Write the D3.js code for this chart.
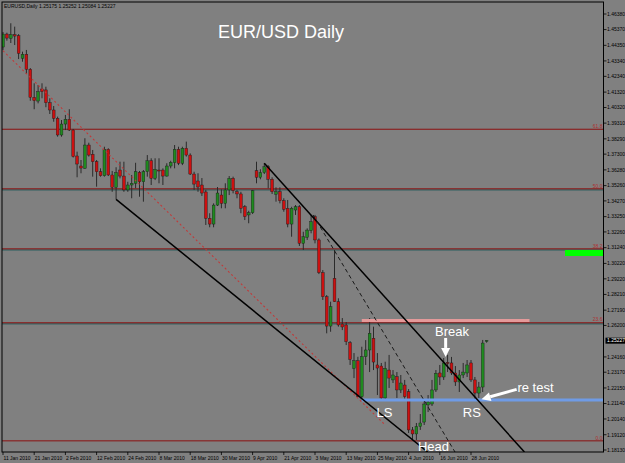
<!DOCTYPE html>
<html>
<head>
<meta charset="utf-8">
<script src="https://cdn.jsdelivr.net/npm/d3@7/dist/d3.min.js"></script>
<style>
  html, body { margin: 0; padding: 0; background: #808080; }
  svg { display: block; }
  text { font-family: "Liberation Sans", Arial, sans-serif; }
</style>
</head>
<body>
<svg id="chart" width="625" height="463"></svg>
<script>
// EURUSD daily bars, index 0 = 11 Jan 2010 ... index 124 = 2 Jul 2010
const opens = [1.4424,1.4508,1.4480,1.4504,1.4497,1.4351,1.4377,1.4280,1.4098,1.4074,
  1.4152,1.4146,1.4063,1.4016,1.3962,1.3854,1.3925,1.3956,1.3886,1.3718,
  1.3653,1.3638,1.3789,1.3729,1.3681,1.3616,1.3590,1.3761,1.3595,1.3515,
  1.3627,1.3588,1.3498,1.3530,1.3541,1.3612,1.3551,1.3616,1.3687,1.3573,
  1.3627,1.3627,1.3588,1.3653,1.3675,1.3761,1.3671,1.3768,1.3724,1.3601,
  1.3556,1.3530,1.3485,1.3314,1.3277,1.3400,1.3465,1.3411,1.3498,1.3573,
  1.3486,1.3472,1.3389,1.3336,1.3350,1.3623,1.3580,1.3610,1.3648,1.3567,
  1.3470,1.3486,1.3428,1.3379,1.3277,1.3368,1.3389,1.3152,1.3191,1.3234,
  1.3325,1.3174,1.2962,1.2806,1.2616,1.2925,1.2774,1.2629,1.2623,1.2508,
  1.2342,1.2391,1.2158,1.2417,1.2461,1.2537,1.2364,1.2357,1.2150,1.2331,
  1.2267,1.2288,1.2202,1.2234,1.2191,1.1943,1.1917,1.1965,1.1994,1.2105,
  1.2111,1.2202,1.2312,1.2286,1.2380,1.2377,1.2312,1.2254,1.2299,1.2312,
  1.2377,1.2267,1.2182,1.2221,1.25175];
const highs = [1.4521,1.4517,1.4578,1.4556,1.4508,1.4394,1.4405,1.4288,1.4189,1.4178,
  1.4189,1.4167,1.4092,1.4042,1.3973,1.3951,1.3984,1.4021,1.3893,1.3746,
  1.3692,1.3833,1.3804,1.3757,1.3692,1.3638,1.3778,1.3768,1.3621,1.3645,
  1.3681,1.3681,1.3551,1.3595,1.3674,1.3621,1.3627,1.3724,1.3703,1.3703,
  1.3703,1.3638,1.3671,1.3687,1.3789,1.3778,1.3778,1.3811,1.3735,1.3616,
  1.3606,1.3575,1.3498,1.3347,1.3411,1.3517,1.3502,1.3541,1.3588,1.3584,
  1.3498,1.3486,1.3400,1.3363,1.3498,1.3681,1.3632,1.3671,1.3659,1.3580,
  1.3515,1.3515,1.3444,1.3433,1.3389,1.3400,1.3400,1.3227,1.3249,1.3336,
  1.3336,1.3184,1.2979,1.2817,1.2774,1.3109,1.2796,1.2668,1.2642,1.2519,
  1.2441,1.2417,1.2482,1.2525,1.2668,1.2612,1.2441,1.2377,1.2385,1.2429,
  1.2331,1.2318,1.2299,1.2267,1.2208,1.1962,1.1988,1.2046,1.2137,1.2169,
  1.2267,1.2331,1.2364,1.2409,1.2429,1.2416,1.2357,1.2331,1.2377,1.2396,
  1.2396,1.2286,1.2254,1.2526,1.25252];
const lows = [1.4405,1.4465,1.4450,1.4437,1.4346,1.4329,1.4249,1.4076,1.4021,1.4059,
  1.4092,1.4034,1.3990,1.3940,1.3843,1.3843,1.3886,1.3880,1.3708,1.3580,
  1.3606,1.3635,1.3714,1.3584,1.3519,1.3584,1.3584,1.3588,1.3486,1.3437,
  1.3573,1.3486,1.3486,1.3444,1.3509,1.3454,1.3422,1.3584,1.3530,1.3562,
  1.3541,1.3530,1.3584,1.3638,1.3638,1.3659,1.3659,1.3714,1.3595,1.3498,
  1.3486,1.3459,1.3271,1.3256,1.3256,1.3394,1.3379,1.3379,1.3465,1.3476,
  1.3444,1.3347,1.3303,1.3282,1.3342,1.3541,1.3567,1.3601,1.3509,1.3472,
  1.3422,1.3411,1.3357,1.3256,1.3195,1.3336,1.3135,1.3109,1.3174,1.3217,
  1.3152,1.2953,1.2785,1.2569,1.2579,1.2772,1.2612,1.2590,1.2493,1.2364,
  1.2279,1.2156,1.2148,1.2364,1.2318,1.2331,1.2169,1.2137,1.2137,1.2215,
  1.2247,1.2150,1.2182,1.2137,1.1923,1.1875,1.1878,1.1943,1.1975,1.2059,
  1.2098,1.2189,1.2234,1.2267,1.2318,1.2299,1.2228,1.2189,1.2279,1.2286,
  1.2254,1.2137,1.2150,1.2189,1.25084];
const closes = [1.4508,1.4482,1.4504,1.4495,1.4383,1.4377,1.4280,1.4098,1.4076,1.4135,
  1.4135,1.4063,1.4016,1.3962,1.3854,1.3925,1.3956,1.3886,1.3714,1.3666,
  1.3640,1.3789,1.3724,1.3681,1.3616,1.3590,1.3761,1.3595,1.3515,1.3610,
  1.3588,1.3498,1.3530,1.3541,1.3616,1.3551,1.3616,1.3687,1.3573,1.3632,
  1.3624,1.3588,1.3653,1.3677,1.3761,1.3671,1.3768,1.3724,1.3601,1.3536,
  1.3517,1.3478,1.3314,1.3277,1.3400,1.3478,1.3411,1.3498,1.3573,1.3493,
  1.3472,1.3379,1.3325,1.3350,1.3493,1.3580,1.3610,1.3648,1.3567,1.3486,
  1.3486,1.3428,1.3373,1.3277,1.3379,1.3389,1.3152,1.3195,1.3238,1.3292,
  1.3174,1.2962,1.2806,1.2616,1.2741,1.2774,1.2623,1.2610,1.2515,1.2400,
  1.2391,1.2158,1.2417,1.2461,1.2569,1.2383,1.2344,1.2150,1.2342,1.2279,
  1.2299,1.2202,1.2247,1.2158,1.1943,1.1917,1.1965,1.1988,1.2111,1.2124,
  1.2202,1.2310,1.2286,1.2377,1.2374,1.2312,1.2254,1.2299,1.2318,1.2364,
  1.2267,1.2182,1.2221,1.2506,1.25227];

// time axis: one label every 8 bars
const dateLabels = ["11 Jan 2010","21 Jan 2010","2 Feb 2010","12 Feb 2010","24 Feb 2010",
  "8 Mar 2010","18 Mar 2010","30 Mar 2010","9 Apr 2010","21 Apr 2010","3 May 2010",
  "13 May 2010","25 May 2010","4 Jun 2010","16 Jun 2010","28 Jun 2010"];
const dateIndex = [0,8,16,24,32,40,48,56,64,72,80,88,96,104,112,120];

// price axis labels
const priceLabels = ["1.46380","1.45370","1.44350","1.43340","1.42340","1.41320","1.40320",
  "1.39310","1.38290","1.37300","1.36280","1.35260","1.34270","1.33250","1.32260","1.31240",
  "1.30220","1.29220","1.28210","1.27190","1.26200","1.24160","1.23170","1.22150","1.21140",
  "1.20140","1.19120","1.18130"];
const lastPrice = 1.25227;

// fibo retracement levels
const fibPrices = [1.1871, 1.2636, 1.3115, 1.3504, 1.3890];
const fibNames = ["0.0", "23.6", "38.2", "50.0", "61.8"];
// plain horizontal lines sitting on the middle fibo levels
const flatLines = [1.2636, 1.3115, 1.3504];

// drawn objects (bar index, price)
const lowerChannel = [[29, 1.3437], [108.9, 1.1800]];
const upperChannel = [[67, 1.3671], [133.7, 1.1800]];
const dashedLine = [[79.5, 1.3336], [115.9, 1.1800]];
const dottedLine = [[0, 1.4400], [98, 1.1975]];
const resistance = [[92, 1.2652], [135, 1.2652]];
const support = [[92, 1.2137], [160, 1.2137]];
const greenZone = [[144.1, 1.3109], [160, 1.3070]];

const notes = [["Break", 110.8, 1.2549], ["LS", 95.8, 1.2029], ["RS", 117.9, 1.2029],
  ["Head", 106.4, 1.1806], ["re test", 131.9, 1.2186]];
const arrows = [[[113.5, 1.2539], [113.5, 1.2416]], [[131.7, 1.2206], [122.7, 1.2142]]];

const svg = d3.select("#chart");
const plotL = 2, plotR = 603.5, plotT = 2, plotB = 452;

const x = d3.scaleLinear().domain([0, 120]).range([3, 471]);
const y = d3.scaleLinear().domain([1.1813, 1.4638]).range([450, 14]);

const bars = opens.map((o, i) => ({ i: i, o: o, h: highs[i], l: lows[i], c: closes[i] }));

svg.append("rect").attr("width", 625).attr("height", 463).attr("fill", "#808080");

svg.append("clipPath").attr("id", "plotclip")
  .append("rect").attr("x", plotL).attr("y", plotT)
  .attr("width", plotR - plotL).attr("height", plotB - plotT);

const g = svg.append("g").attr("clip-path", "url(#plotclip)");

// header
svg.append("text").attr("x", 4).attr("y", 8)
  .attr("font-size", 5).attr("fill", "#000")
  .text("EURUSD,Daily  1.25175 1.25252 1.25084 1.25227");

// title
svg.append("text").attr("x", 218).attr("y", 38)
  .attr("font-size", 18).attr("fill", "#fff")
  .text("EUR/USD Daily");

// fibo lines
g.selectAll(".flat").data(flatLines).enter().append("line")
  .attr("x1", plotL).attr("x2", plotR)
  .attr("y1", d => y(d) + 0.9).attr("y2", d => y(d) + 0.9)
  .attr("stroke", "#1d5a5a").attr("stroke-width", 1);
g.selectAll(".fib").data(fibPrices).enter().append("line")
  .attr("x1", plotL).attr("x2", plotR)
  .attr("y1", d => y(d) - 0.2).attr("y2", d => y(d) - 0.2)
  .attr("stroke", "#8c1010").attr("stroke-width", 1);
svg.selectAll(".fibtxt").data(fibPrices).enter().append("text")
  .attr("x", plotR - 1).attr("y", d => y(d) - 1.5)
  .attr("text-anchor", "end").attr("font-size", 5).attr("fill", "#b03030")
  .text((d, i) => fibNames[i]);

// candles
const line = d3.line().x(d => x(d[0])).y(d => y(d[1]));

g.selectAll(".wick").data(bars).enter().append("line")
  .attr("x1", d => x(d.i)).attr("x2", d => x(d.i))
  .attr("y1", d => y(d.h)).attr("y2", d => y(d.l))
  .attr("stroke", "#2a2a2a").attr("stroke-width", 1);

g.selectAll(".body").data(bars).enter().append("rect")
  .attr("x", d => x(d.i) - 1.4).attr("width", 2.8)
  .attr("y", d => y(Math.max(d.o, d.c)))
  .attr("height", d => Math.max(1, Math.abs(y(d.o) - y(d.c))))
  .attr("fill", d => d.c >= d.o ? "#1f8a1f" : "#cc1010")
  .attr("stroke", "#1a1a1a").attr("stroke-width", 0.4);

// horizontal levels
g.append("path").attr("d", line(resistance))
  .attr("stroke", "#e49a9a").attr("stroke-width", 3).attr("fill", "none");
g.append("path").attr("d", line(support))
  .attr("stroke", "#6f9be6").attr("stroke-width", 3).attr("fill", "none");

// green zone
g.append("rect")
  .attr("x", x(greenZone[0][0])).attr("y", y(greenZone[0][1]))
  .attr("width", x(greenZone[1][0]) - x(greenZone[0][0]))
  .attr("height", y(greenZone[1][1]) - y(greenZone[0][1]))
  .attr("fill", "#00ff00");

// trend lines
g.append("path").attr("d", line(dottedLine))
  .attr("stroke", "#c03a3a").attr("stroke-width", 1.1).attr("stroke-dasharray", "2,2.5").attr("fill", "none");
g.append("path").attr("d", line(lowerChannel))
  .attr("stroke", "#000").attr("stroke-width", 1.5).attr("fill", "none");
g.append("path").attr("d", line(upperChannel))
  .attr("stroke", "#000").attr("stroke-width", 1.5).attr("fill", "none");
g.append("path").attr("d", line(dashedLine))
  .attr("stroke", "#1a1a1a").attr("stroke-width", 1).attr("stroke-dasharray", "4,3").attr("fill", "none");

// arrows
arrows.forEach(a => {
  const x0 = x(a[0][0]), y0 = y(a[0][1]), x1 = x(a[1][0]), y1 = y(a[1][1]);
  const len = Math.hypot(x1 - x0, y1 - y0);
  const ux = (x1 - x0) / len, uy = (y1 - y0) / len;
  const hl = 9, hw = 4.5;
  const bx = x1 - ux * hl, by = y1 - uy * hl;
  svg.append("line").attr("x1", x0).attr("y1", y0).attr("x2", bx).attr("y2", by)
    .attr("stroke", "#fff").attr("stroke-width", 3);
  svg.append("polygon")
    .attr("points", [[x1, y1], [bx - uy * hw, by + ux * hw], [bx + uy * hw, by - ux * hw]].join(" "))
    .attr("fill", "#fff");
});

// notes
svg.selectAll(".note").data(notes).enter().append("text")
  .attr("x", d => x(d[1])).attr("y", d => y(d[2]))
  .attr("font-size", 13).attr("fill", "#fff")
  .text(d => d[0]);

// frame
svg.append("rect").attr("x", plotL).attr("y", plotT)
  .attr("width", plotR - plotL).attr("height", plotB - plotT)
  .attr("fill", "none").attr("stroke", "#000").attr("stroke-width", 1);

// price axis
priceLabels.forEach(s => {
  const py = y(+s);
  svg.append("line").attr("x1", plotR).attr("x2", plotR + 3)
    .attr("y1", py).attr("y2", py).attr("stroke", "#000").attr("stroke-width", 0.8);
  svg.append("text").attr("x", plotR + 3.5).attr("y", py + 1.8)
    .attr("font-size", 5).attr("fill", "#000").text(s);
});
svg.append("rect").attr("x", plotR + 2).attr("y", y(lastPrice) - 2.8)
  .attr("width", 20).attr("height", 6).attr("fill", "#000");
svg.append("text").attr("x", plotR + 3.5).attr("y", y(lastPrice) + 1.8)
  .attr("font-size", 5).attr("fill", "#fff").text(lastPrice.toFixed(5));

// time axis
dateIndex.forEach((di, k) => {
  const px = x(di);
  svg.append("line").attr("x1", px).attr("x2", px)
    .attr("y1", plotB).attr("y2", plotB + 3).attr("stroke", "#000").attr("stroke-width", 0.8);
  svg.append("text").attr("x", px + 0.5).attr("y", plotB + 7.5)
    .attr("font-size", 5).attr("fill", "#000").text(dateLabels[k]);
});
</script>
</body>
</html>
